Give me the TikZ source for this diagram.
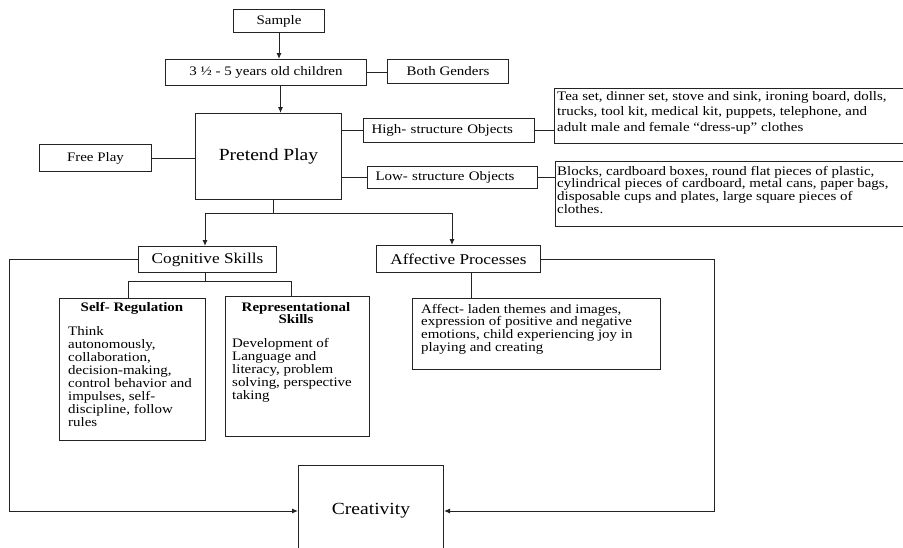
\documentclass[tikz,border=0pt]{standalone}
\usepackage{fontspec}
\setmainfont{Liberation Serif}[FakeStretch=1.15]
\usetikzlibrary{arrows.meta,calc}
\definecolor{lc}{RGB}{35,35,35}
\tikzset{
  box/.style={draw=lc, line width=1pt, rectangle, inner sep=0pt, anchor=north west},
  lbl/.style={font=\fontsize{13}{15}\selectfont},
  big/.style={font=\fontsize{15}{17}\selectfont},
  huge/.style={font=\fontsize{17}{19}\selectfont},
  conn/.style={draw=lc, line width=1pt},
  arr/.style={conn, -{Latex[length=6pt,width=5pt]}},
  body/.style={anchor=base west, inner sep=0pt, text=black},
  ttl/.style={anchor=base, inner sep=0pt, font=\bfseries\fontsize{13}{12}\selectfont},
}
\begin{document}
\begin{tikzpicture}[x=1pt,y=-1pt]
\path[use as bounding box, fill=white] (0,0) rectangle (903,547);

% boxes
\node[box, lbl, minimum width=91pt, minimum height=23pt] (sample) at (233,9) {Sample};
\node[box, lbl, minimum width=201pt, minimum height=26pt] (children) at (165,59) {3 ½ - 5 years old children};
\node[box, lbl, minimum width=121pt, minimum height=24pt] (genders) at (387,59) {Both Genders};
\node[box, huge, minimum width=146pt, minimum height=86pt] (pretend) at (195,113) {Pretend Play};
\node[box, lbl, minimum width=112pt, minimum height=27pt] (free) at (39,144) {Free Play};
\node[box, lbl, minimum width=171pt, minimum height=24pt, inner xsep=8pt, text width=155pt, align=left] (high) at (363,118) {High- structure Objects};
\node[box, lbl, minimum width=170pt, minimum height=22pt, inner xsep=8pt, text width=154pt, align=left] (low) at (367,166) {Low- structure Objects};
\node[box, minimum width=348.5pt, minimum height=55pt] (highdesc) at (554,88) {};
\node[box, minimum width=347.5pt, minimum height=65pt] (lowdesc) at (555,161) {};
\node[box, big, minimum width=138pt, minimum height=26pt] (cog) at (138,246) {Cognitive Skills};
\node[box, big, minimum width=164pt, minimum height=27pt] (aff) at (376,245) {Affective Processes};
\node[box, minimum width=146pt, minimum height=142pt] (selfreg) at (59,298) {};
\node[box, minimum width=144pt, minimum height=140pt] (rep) at (225,296) {};
\node[box, minimum width=248pt, minimum height=71pt] (affdesc) at (412,298) {};
\node[box, huge, minimum width=145pt, minimum height=91pt] (cre) at (298,465) {Creativity};

% texts inside boxes
\node[body, font=\fontsize{13}{15.6}\selectfont] (hdt) at (557,100) {\parbox[t]{400pt}{\raggedright
Tea set, dinner set, stove and sink, ironing board, dolls,\\
trucks, tool kit, medical kit, puppets, telephone, and\\
adult male and female “dress-up” clothes}};
\node[body, font=\fontsize{13}{12.8}\selectfont] (ldt) at (557,175) {\parbox[t]{400pt}{\raggedright
Blocks, cardboard boxes, round flat pieces of plastic,\\
cylindrical pieces of cardboard, metal cans, paper bags,\\
disposable cups and plates, large square pieces of\\
clothes.}};
\node[ttl] (srt) at (132,311.7) {Self- Regulation};
\node[body, font=\fontsize{13}{12.9}\selectfont] (srb) at (68,335.7) {\parbox[t]{300pt}{\raggedright
Think\\
autonomously,\\
collaboration,\\
decision-making,\\
control behavior and\\
impulses, self-\\
discipline, follow\\
rules}};
\node[ttl] (rpt) at (296,311.7) {\parbox[t]{150pt}{\centering Representational\\Skills}};
\node[body, font=\fontsize{13}{12.9}\selectfont] (rpb) at (232,347.7) {\parbox[t]{300pt}{\raggedright
Development of\\
Language and\\
literacy, problem\\
solving, perspective\\
taking}};
\node[body, font=\fontsize{13}{12.9}\selectfont] (adt) at (421,313) {\parbox[t]{400pt}{\raggedright
Affect- laden themes and images,\\
expression of positive and negative\\
emotions, child experiencing joy in\\
playing and creating}};

% helper coordinates
\coordinate (bl) at (205,213);
\coordinate (brr) at (452,213);
\coordinate (c1) at (128,281);
\coordinate (c2) at (291,281);
\coordinate (lx) at (9,0);
\coordinate (rx) at (714,0);
\coordinate (adx) at (471,0);

% connectors
\draw[arr] (sample.south) -- (sample.south |- children.north);
\draw[arr] ($(sample.south |- children.south)+(1.5,0)$) -- ($(sample.south |- pretend.north)+(1.5,0)$);
\draw[conn] (children.east) -- (children.east -| genders.west);
\draw[conn] (free.east) -- (free.east -| pretend.west);
\draw[conn] (high.west -| pretend.east) -- (high.west);
\draw[conn] (low.west -| pretend.east) -- (low.west);
\draw[conn] (high.east) -- (high.east -| highdesc.west);
\draw[conn] (low.east) -- (low.east -| lowdesc.west);
\draw[arr] ($(pretend.south)+(5,0)$) |- (bl) -- (bl |- cog.north);
\draw[arr] ($(pretend.south)+(5,0)$) |- (brr) -- (brr |- aff.north);
\draw[conn] (bl |- cog.south) |- (c1) -- (c1 |- selfreg.north);
\draw[conn] (bl |- cog.south) |- (c2) -- (c2 |- rep.north);
\draw[conn] (adx |- aff.south) -- (adx |- affdesc.north);
\draw[arr] (cog.west) -| (lx |- cre.west) -- (cre.west);
\draw[arr] (aff.east) -| (rx |- cre.east) -- (cre.east);
\end{tikzpicture}
\end{document}
